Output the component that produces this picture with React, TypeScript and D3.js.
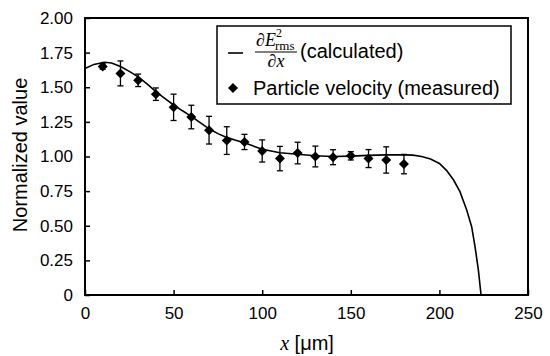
import React, { useRef, useEffect } from "react";
import * as d3 from "d3";

// measured particle velocity (normalized)
const measuredX = [10, 20, 30, 40, 50, 60, 70, 80, 90, 100, 110, 120, 130, 140, 150, 160, 170, 180];
const measuredY = [1.65, 1.6, 1.55, 1.45, 1.355, 1.285, 1.19, 1.115, 1.105, 1.04, 0.985, 1.025, 1.0, 0.995, 1.005, 0.985, 0.975, 0.945];
const measuredErr = [0.02, 0.09, 0.045, 0.045, 0.095, 0.085, 0.1, 0.1, 0.055, 0.08, 0.088, 0.078, 0.075, 0.054, 0.03, 0.065, 0.095, 0.07];

// calculated dE^2/dx curve
const curveX = [0, 5, 11, 15, 20, 25, 30, 35, 40, 45, 50, 55, 60, 65, 70, 75, 80, 85, 90, 95, 100, 110, 120, 130, 140, 150, 160, 170, 180, 185, 190, 195, 200, 204, 208, 211.6, 215.4, 218.2, 220.1, 222, 223.5];
const curveY = [1.635, 1.665, 1.68, 1.675, 1.65, 1.615, 1.575, 1.525, 1.468, 1.42, 1.372, 1.33, 1.29, 1.245, 1.2, 1.165, 1.138, 1.118, 1.1, 1.075, 1.052, 1.027, 1.016, 1.005, 1.0, 1.003, 1.008, 1.012, 1.012, 1.01, 1.0, 0.982, 0.95, 0.9, 0.83, 0.746, 0.614, 0.493, 0.349, 0.18, 0.0];

const xTicks = [0, 50, 100, 150, 200, 250];
const yTicks = [0, 0.25, 0.5, 0.75, 1.0, 1.25, 1.5, 1.75, 2.0];

const SANS = "Arial, 'Liberation Sans', sans-serif";
const SERIF = "'Times New Roman', 'Liberation Serif', serif";

const App = () => {
  const ref = useRef<SVGSVGElement | null>(null);

  useEffect(() => {
    const width = 550;
    const height = 356;
    const margin = { top: 18, right: 22, bottom: 61, left: 85 };

    const svg = d3.select(ref.current);
    svg.selectAll("*").remove();

    const x = d3.scaleLinear().domain([0, 250]).range([margin.left, width - margin.right]);
    const y = d3.scaleLinear().domain([0, 2]).range([height - margin.bottom, margin.top]);

    const xAxis = svg
      .append("g")
      .attr("transform", `translate(0,${height - margin.bottom})`)
      .call(
        d3.axisBottom(x).tickValues(xTicks).tickSize(-5).tickPadding(12).tickFormat((d) => `${d}`)
      );
    const yAxis = svg
      .append("g")
      .attr("transform", `translate(${margin.left},0)`)
      .call(
        d3
          .axisLeft(y)
          .tickValues(yTicks)
          .tickSize(-5)
          .tickPadding(12)
          .tickFormat((d) => (+d === 0 ? "0" : (+d).toFixed(2)))
      );
    [xAxis, yAxis].forEach((g) => {
      g.select(".domain").remove();
      g.selectAll("line").attr("stroke", "#000").attr("stroke-width", 1.5);
      g.selectAll("text").attr("font-family", SANS).attr("font-size", 17).attr("fill", "#000");
    });

    // frame
    svg
      .append("rect")
      .attr("x", margin.left)
      .attr("y", margin.top)
      .attr("width", width - margin.left - margin.right)
      .attr("height", height - margin.top - margin.bottom)
      .attr("fill", "none")
      .attr("stroke", "#000")
      .attr("stroke-width", 2);

    // calculated curve
    const line = d3
      .line<number>()
      .x((d, i) => x(curveX[i]))
      .y((d) => y(d));
    svg
      .append("path")
      .attr("d", line(curveY))
      .attr("fill", "none")
      .attr("stroke", "#000")
      .attr("stroke-width", 1.6);

    // error bars
    const eb = svg.append("g").attr("stroke", "#000").attr("stroke-width", 1.3);
    measuredX.forEach((mx, i) => {
      const cx = x(mx);
      const y0 = y(measuredY[i] - measuredErr[i]);
      const y1 = y(measuredY[i] + measuredErr[i]);
      eb.append("line").attr("x1", cx).attr("x2", cx).attr("y1", y0).attr("y2", y1);
      eb.append("line").attr("x1", cx - 3).attr("x2", cx + 3).attr("y1", y0).attr("y2", y0);
      eb.append("line").attr("x1", cx - 3).attr("x2", cx + 3).attr("y1", y1).attr("y2", y1);
    });

    const diamond = (cx: number, cy: number, r: number) =>
      `M${cx},${cy - r}L${cx + r},${cy}L${cx},${cy + r}L${cx - r},${cy}Z`;

    svg
      .append("g")
      .selectAll("path")
      .data(measuredY)
      .join("path")
      .attr("d", (d, i) => diamond(x(measuredX[i]), y(d), 5))
      .attr("fill", "#000");

    // axis titles
    svg
      .append("text")
      .attr("transform", `translate(27,155) rotate(-90)`)
      .attr("text-anchor", "middle")
      .attr("font-family", SANS)
      .attr("font-size", 20)
      .text("Normalized value");

    const xt = svg
      .append("text")
      .attr("x", 307)
      .attr("y", 350)
      .attr("text-anchor", "middle")
      .attr("font-family", SANS)
      .attr("font-size", 20);
    xt.append("tspan").attr("font-family", SERIF).attr("font-style", "italic").text("x");
    xt.append("tspan").text(" [μm]");

    // legend
    const lg = svg.append("g");
    lg.append("rect")
      .attr("x", 217)
      .attr("y", 26)
      .attr("width", 294)
      .attr("height", 78)
      .attr("fill", "#fff")
      .attr("stroke", "#000")
      .attr("stroke-width", 1.5);
    lg.append("line")
      .attr("x1", 228)
      .attr("x2", 243)
      .attr("y1", 53)
      .attr("y2", 53)
      .attr("stroke", "#000")
      .attr("stroke-width", 1.6);

    // numerator: dE with stacked superscript 2 and subscript rms
    const num = lg
      .append("text")
      .attr("x", 256)
      .attr("y", 46)
      .attr("font-family", SERIF)
      .attr("font-size", 18);
    num.append("tspan").text("∂");
    num.append("tspan").attr("font-style", "italic").text("E");
    num
      .append("tspan")
      .attr("x", 276)
      .attr("y", 37)
      .attr("font-size", 12)
      .text("2");
    num
      .append("tspan")
      .attr("x", 275)
      .attr("y", 50)
      .attr("font-size", 13)
      .text("rms");
    lg.append("line")
      .attr("x1", 255)
      .attr("x2", 297)
      .attr("y1", 52)
      .attr("y2", 52)
      .attr("stroke", "#000")
      .attr("stroke-width", 1);
    const den = lg
      .append("text")
      .attr("x", 276)
      .attr("y", 67)
      .attr("text-anchor", "middle")
      .attr("font-family", SERIF)
      .attr("font-size", 18);
    den.append("tspan").text("∂");
    den.append("tspan").attr("font-style", "italic").text("x");

    lg.append("text")
      .attr("x", 300)
      .attr("y", 58)
      .attr("font-family", SANS)
      .attr("font-size", 20)
      .text("(calculated)");

    lg.append("path").attr("d", diamond(233, 88, 5)).attr("fill", "#000");
    lg.append("text")
      .attr("x", 253)
      .attr("y", 95)
      .attr("font-family", SANS)
      .attr("font-size", 20)
      .text("Particle velocity (measured)");
  }, []);

  return (
    <svg
      ref={ref}
      width={550}
      height={356}
      style={{ position: "absolute", left: 0, top: 0, background: "#fff" }}
    />
  );
};

export default App;
